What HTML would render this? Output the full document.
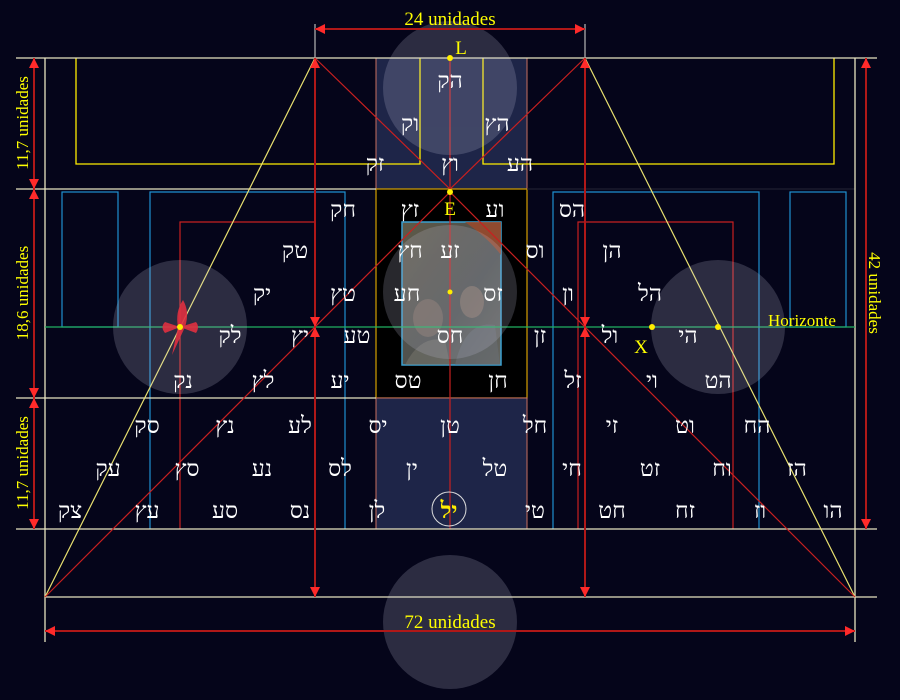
<!DOCTYPE html>
<html><head><meta charset="utf-8"><style>
html,body{margin:0;padding:0;background:#05051a;width:900px;height:700px;overflow:hidden}
svg{display:block}
.h{font-family:"Liberation Serif","DejaVu Serif",serif;font-size:23px;fill:#fff;text-anchor:middle;direction:rtl;unicode-bidi:bidi-override}
.y{font-family:"Liberation Serif",serif;fill:#ffff00;font-size:19px;text-anchor:middle}
</style></head><body>
<svg width="900" height="700" viewBox="0 0 900 700" xmlns="http://www.w3.org/2000/svg">
<defs>
<marker id="a" viewBox="0 0 10 10" refX="10" refY="5" markerWidth="10" markerHeight="10" markerUnits="userSpaceOnUse" orient="auto-start-reverse"><path d="M0,0L10,5L0,10z" fill="#ff2a2a"/></marker>
<linearGradient id="pg" x1="0" y1="0" x2="1" y2="1"><stop offset="0" stop-color="#5e5a48"/><stop offset="0.3" stop-color="#55534a"/><stop offset="0.6" stop-color="#4e5250"/><stop offset="1" stop-color="#666660"/></linearGradient>
</defs>
<rect width="900" height="700" fill="#05051a"/>
<rect x="376" y="58" width="151" height="131" fill="#1e2548" stroke="#c87060" stroke-width="1"/>
<rect x="376" y="189" width="151" height="209" fill="#000" stroke="#d4a000" stroke-width="1.2"/>
<rect x="376" y="398" width="151" height="131" fill="#1e2548" stroke="#c87060" stroke-width="1"/>
<line x1="527" y1="189" x2="855" y2="189" stroke="#252535" stroke-width="1"/>
<rect x="402" y="222" width="99" height="143" fill="url(#pg)" stroke="#3aa0d0" stroke-width="1.5"/>
<path d="M465,222 L501,222 L501,255 Q488,238 465,222z" fill="#a04828" opacity="0.8"/>
<ellipse cx="428" cy="318" rx="15" ry="19" fill="#8a7466" opacity="0.5"/>
<ellipse cx="472" cy="302" rx="12" ry="16" fill="#9a8070" opacity="0.5"/>
<path d="M405,365 Q420,335 445,340 L450,365z" fill="#7a786e" opacity="0.5"/>
<path d="M455,365 Q465,320 495,325 L500,365z" fill="#6a7078" opacity="0.5"/>
<path d="M76,58V164H420V58M483,58V164H834V58" fill="none" stroke="#ffee00" stroke-width="1.3"/>
<g fill="none" stroke="#1e8fd0" stroke-width="1.2">
<rect x="62" y="192" width="56" height="135"/>
<rect x="790" y="192" width="56" height="135"/>
<path d="M150,529V192H345V529M553,529V192H759V529"/>
</g>
<g fill="none" stroke="#c82020" stroke-width="1.2">
<path d="M180,529V222H315M578,529V222H733V529"/>
<line x1="450" y1="58" x2="450" y2="529"/>
</g>
<g stroke="#e8e4c0" stroke-width="1.3">
<line x1="16" y1="58" x2="877" y2="58"/>
<line x1="16" y1="189" x2="376" y2="189"/>
<line x1="16" y1="398" x2="376" y2="398"/>
<line x1="16" y1="529" x2="877" y2="529"/>
<line x1="45" y1="597" x2="877" y2="597"/>
<line x1="45" y1="58" x2="45" y2="642"/>
<line x1="855" y1="58" x2="855" y2="642"/>
<line x1="315" y1="24" x2="315" y2="58" stroke="#aaa"/>
<line x1="585" y1="24" x2="585" y2="58" stroke="#aaa"/>
</g>
<line x1="45" y1="327" x2="855" y2="327" stroke="#20b060" stroke-width="1.2"/>
<g stroke-width="1.2" fill="none">
<path d="M315,58L45,597M585,58L855,597" stroke="#e8e070"/>
<path d="M315,58L450,189L585,58M45,597L450,192L855,597" stroke="#c82020"/>
</g>
<g fill="#c8c8e0" opacity="0.2">
<circle cx="450" cy="88" r="67"/>
<circle cx="450" cy="292" r="67"/>
<circle cx="180" cy="327" r="67"/>
<circle cx="718" cy="327" r="67"/>
<circle cx="450" cy="622" r="67"/>
</g>
<g stroke="#b01818" stroke-width="2" fill="none" marker-start="url(#a)" marker-end="url(#a)">
<line x1="315" y1="29" x2="585" y2="29"/>
<line x1="45" y1="631" x2="855" y2="631"/>
<line x1="34" y1="58" x2="34" y2="189"/>
<line x1="34" y1="189" x2="34" y2="398"/>
<line x1="34" y1="398" x2="34" y2="529"/>
<line x1="866" y1="58" x2="866" y2="529"/>
<line x1="315" y1="58" x2="315" y2="327"/>
<line x1="315" y1="327" x2="315" y2="597"/>
<line x1="585" y1="58" x2="585" y2="327"/>
<line x1="585" y1="327" x2="585" y2="597"/>
</g>
<g fill="#e03040" opacity="0.9">
<path d="M183,300 Q175,312 178,327 L172,355 L185,327 Q190,312 183,300z"/>
<path d="M165,322 L180,327 L165,333 Q160,327 165,322z"/>
<path d="M196,322 L180,327 L196,333 Q200,327 196,322z"/>
</g>
<g fill="#ffee00">
<circle cx="450" cy="58" r="3"/><circle cx="450" cy="192" r="3"/><circle cx="450" cy="292" r="2.5"/>
<circle cx="180" cy="327" r="3"/><circle cx="652" cy="327" r="3"/><circle cx="718" cy="327" r="3"/>
</g>
<text class="y" x="450" y="25">24 unidades</text>
<text class="y" x="450" y="628">72 unidades</text>
<text class="y" x="461" y="54">L</text>
<text class="y" x="450" y="215">E</text>
<text class="y" x="641" y="353">X</text>
<text class="y" x="802" y="326" style="font-size:17px">Horizonte</text>
<text class="y" transform="translate(28,123) rotate(-90)" style="font-size:17px">11,7 unidades</text>
<text class="y" transform="translate(28,293) rotate(-90)" style="font-size:17px">18,6 unidades</text>
<text class="y" transform="translate(28,463) rotate(-90)" style="font-size:17px">11,7 unidades</text>
<text class="y" transform="translate(869,293) rotate(90)" style="font-size:17px">42 unidades</text>
<g class="h">
<text x="450" y="88" class="h">הק</text>
<text x="410" y="131" class="h">וק</text><text x="497" y="131" class="h">הץ</text>
<text x="375" y="171" class="h">זק</text><text x="450" y="171" class="h">וץ</text><text x="520" y="171" class="h">הע</text>
<text x="343" y="217" class="h">חק</text><text x="410" y="217" class="h">זץ</text><text x="495" y="217" class="h">וע</text><text x="572" y="217" class="h">הס</text>
<text x="295" y="258" class="h">טק</text><text x="410" y="258" class="h">חץ</text><text x="450" y="258" class="h">זע</text><text x="535" y="258" class="h">וס</text><text x="612" y="258" class="h">הן</text>
<text x="262" y="301" class="h">יק</text><text x="343" y="301" class="h">טץ</text><text x="407" y="301" class="h">חע</text><text x="493" y="301" class="h">זס</text><text x="568" y="301" class="h">ון</text><text x="650" y="301" class="h">הל</text>
<text x="230" y="343" class="h">לק</text><text x="300" y="343" class="h">יץ</text><text x="357" y="343" class="h">טע</text><text x="450" y="343" class="h">חס</text><text x="540" y="343" class="h">זן</text><text x="610" y="343" class="h">ול</text><text x="688" y="343" class="h">הי</text>
<text x="183" y="388" class="h">נק</text><text x="263" y="388" class="h">לץ</text><text x="340" y="388" class="h">יע</text><text x="408" y="388" class="h">טס</text><text x="498" y="388" class="h">חן</text><text x="573" y="388" class="h">זל</text><text x="652" y="388" class="h">וי</text><text x="718" y="388" class="h">הט</text>
<text x="147" y="433" class="h">סק</text><text x="225" y="433" class="h">נץ</text><text x="300" y="433" class="h">לע</text><text x="378" y="433" class="h">יס</text><text x="450" y="433" class="h">טן</text><text x="535" y="433" class="h">חל</text><text x="612" y="433" class="h">זי</text><text x="685" y="433" class="h">וט</text><text x="757" y="433" class="h">הח</text>
<text x="108" y="476" class="h">עק</text><text x="187" y="476" class="h">סץ</text><text x="262" y="476" class="h">נע</text><text x="340" y="476" class="h">לס</text><text x="412" y="476" class="h">ין</text><text x="495" y="476" class="h">טל</text><text x="572" y="476" class="h">חי</text><text x="650" y="476" class="h">זט</text><text x="722" y="476" class="h">וח</text><text x="797" y="476" class="h">הז</text>
<text x="70" y="518" class="h">צק</text><text x="147" y="518" class="h">עץ</text><text x="225" y="518" class="h">סע</text><text x="300" y="518" class="h">נס</text><text x="377" y="518" class="h">לן</text><text x="535" y="518" class="h">טי</text><text x="612" y="518" class="h">חט</text><text x="685" y="518" class="h">זח</text><text x="760" y="518" class="h">וז</text><text x="833" y="518" class="h">הו</text>
</g>
<circle cx="449" cy="509" r="17" fill="none" stroke="#ddd" stroke-width="1"/>
<text x="449" y="518" class="h" style="fill:#ffee00;font-weight:bold">יל</text>
</svg>
</body></html>
